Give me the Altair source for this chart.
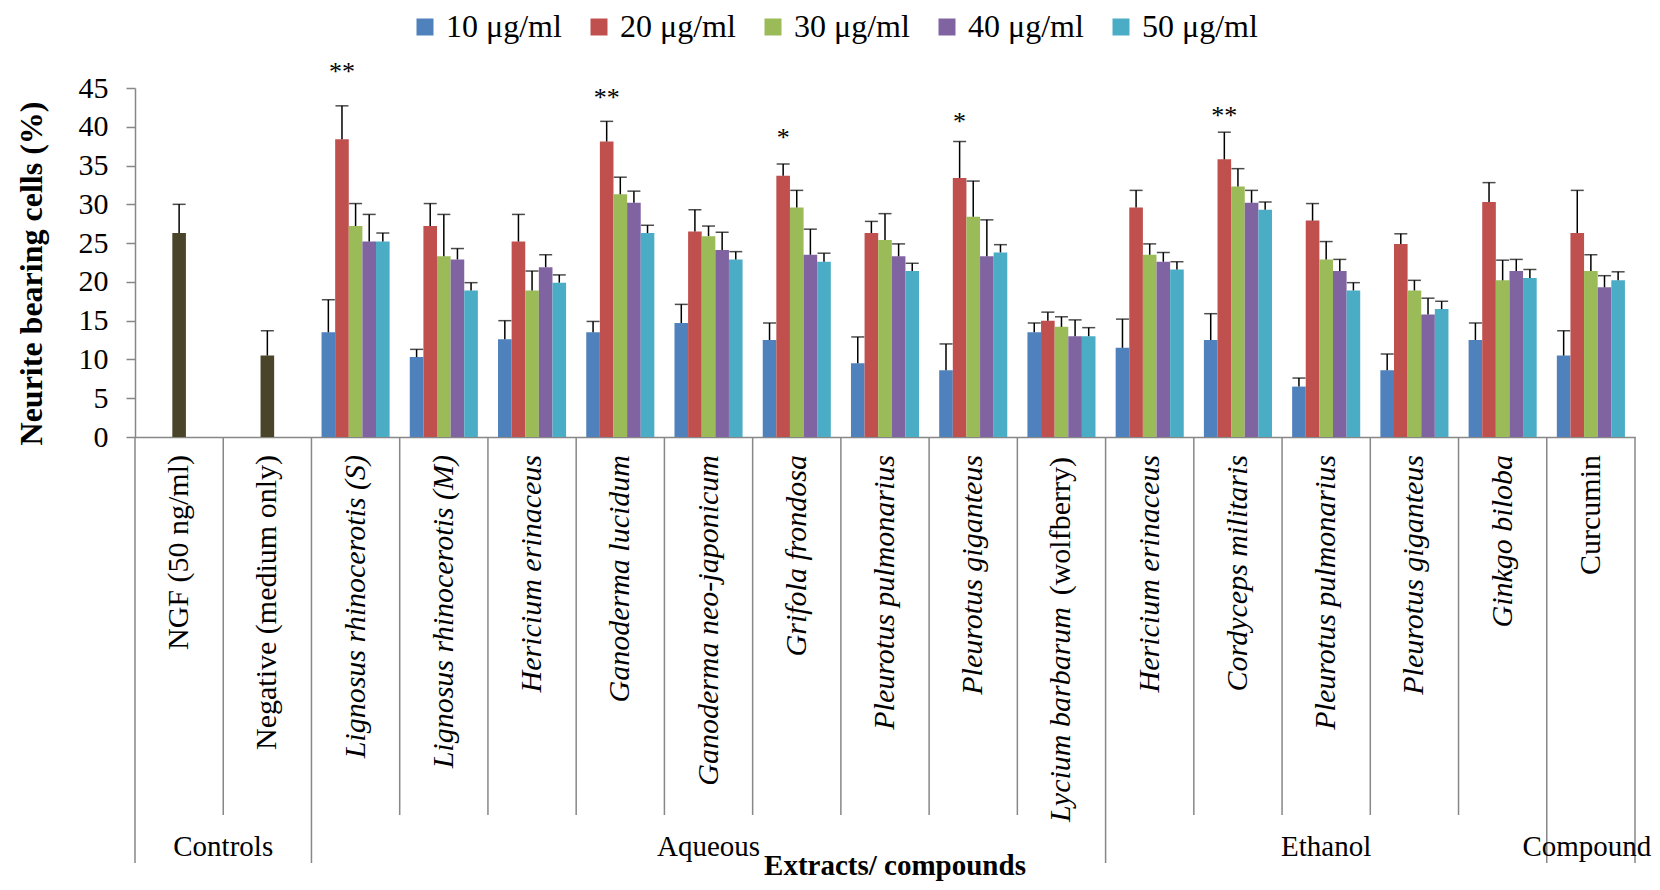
import altair as alt
import pandas as pd

FONT = "Liberation Serif, Times New Roman, Times, serif"
GRAY = "#878787"

# ---------------- data ----------------
labels = [
    "NGF (50 ng/ml)", "Negative (medium only)",
    "Lignosus rhinocerotis (S)", "Lignosus rhinocerotis (M)", "Hericium erinaceus",
    "Ganoderma  lucidum", "Ganoderma neo-japonicum", "Grifola frondosa",
    "Pleurotus pulmonarius", "Pleurotus giganteus", "Lycium barbarum",
    "Hericium erinaceus", "Cordyceps militaris", "Pleurotus pulmonarius",
    "Pleurotus giganteus", "Ginkgo biloba", "Curcumin",
]
italic = [False, False, True, True, True, True, True, True, True, True, True,
          True, True, True, True, True, False]
ids = [f"c{i:02d}" for i in range(len(labels))]

series = ["10 μg/ml", "20 μg/ml", "30 μg/ml", "40 μg/ml", "50 μg/ml"]
colors = ["#4F81BD", "#C0504D", "#9BBB59", "#8064A2", "#4BACC6"]

control_values = [26.3, 10.5]
control_sd = [3.7, 3.2]

# extract categories c02..c16
v10 = [13.5, 10.3, 12.6, 13.5, 14.7, 12.5, 9.5, 8.6, 13.5, 11.5, 12.5, 6.5, 8.6, 12.5, 10.5]
v20 = [38.4, 27.2, 25.2, 38.1, 26.5, 33.7, 26.3, 33.4, 15.0, 29.6, 35.8, 27.9, 24.9, 30.3, 26.3]
v30 = [27.2, 23.3, 18.9, 31.3, 25.9, 29.6, 25.4, 28.4, 14.2, 23.5, 32.3, 22.9, 18.9, 20.2, 21.4]
v40 = [25.2, 22.9, 21.9, 30.2, 24.1, 23.5, 23.3, 23.3, 13.0, 22.6, 30.2, 21.4, 15.8, 21.4, 19.3]
v50 = [25.2, 18.9, 19.9, 26.3, 22.9, 22.6, 21.4, 23.8, 13.0, 21.6, 29.3, 18.9, 16.5, 20.5, 20.2]

sd10 = [4.2, 1.0, 2.4, 1.4, 2.4, 2.2, 3.4, 3.4, 1.2, 3.7, 3.4, 1.1, 2.1, 2.2, 3.2]
sd20 = [4.3, 2.9, 3.5, 2.6, 2.8, 1.5, 1.5, 4.7, 1.1, 2.2, 3.5, 2.2, 1.3, 2.5, 5.5]
sd30 = [2.9, 5.4, 2.5, 2.2, 1.3, 2.2, 3.4, 4.6, 1.3, 1.4, 2.3, 2.3, 1.3, 2.6, 2.1]
sd40 = [3.5, 1.4, 1.6, 1.5, 2.3, 3.3, 1.6, 4.7, 2.1, 1.2, 1.6, 1.5, 2.1, 1.5, 1.5]
sd50 = [1.1, 1.0, 1.0, 1.0, 1.0, 1.1, 1.0, 1.0, 1.1, 1.0, 1.0, 1.0, 1.0, 1.1, 1.1]

y_ticks = [0, 5, 10, 15, 20, 25, 30, 35, 40, 45]

group_names = ["Controls", "Aqueous", "Ethanol", "Compound"]
group_first = [0, 2, 11, 16]

star_ids = ["c02", "c05", "c07", "c09", "c12"]
star_text = ["**", "**", "*", "*", "**"]
star_y = [47.5, 44.1, 38.9, 41.05, 41.8]

# ---------------- tables ----------------
vals = [v10, v20, v30, v40, v50]
sds = [sd10, sd20, sd30, sd40, sd50]
rows = []
for j, s in enumerate(series):
    for k in range(15):
        rows.append({"id": ids[k + 2], "series": s, "value": vals[j][k],
                     "upper": vals[j][k] + sds[j][k]})
df = pd.DataFrame(rows)

ctrl = pd.DataFrame({"id": ids[:2], "value": control_values,
                     "upper": [a + b for a, b in zip(control_values, control_sd)]})

lab_df = pd.DataFrame({"id": ids, "label": labels, "italic": italic})
lab_norm = lab_df[~lab_df["italic"]]
lab_ital = lab_df[lab_df["italic"] & (lab_df["id"] != "c10")]
lab_lyc_i = lab_df[lab_df["id"] == "c10"]
lab_lyc_n = pd.DataFrame({"id": ["c10"], "label": ["(wolfberry)"]})

group_starts = set(group_first)
inner_df = pd.DataFrame({"id": [ids[i] for i in range(len(ids)) if i not in group_starts]})
outer_df = pd.DataFrame({"id": [ids[i] for i in group_first]})
end_df = pd.DataFrame({"id": [ids[-1]]})

stars = pd.DataFrame({"id": star_ids, "series": ["20 μg/ml"] * 5, "y": star_y, "t": star_text})

grp_bound = pd.DataFrame({"id": [ids[1]], "t": [group_names[0]]})
grp_mid = pd.DataFrame({"id": [ids[6], ids[13]], "t": group_names[1:3]})
grp_end = pd.DataFrame({"id": [ids[16]], "t": [group_names[3]]})

ytitle = pd.DataFrame({"t": ["Neurite bearing cells (%)"]})
xtitle = pd.DataFrame({"t": ["Extracts/ compounds"]})

# ---------------- chart ----------------
W, H = 1500, 349
xscale = alt.Scale(domain=ids, paddingInner=0, paddingOuter=0)
xoff = alt.XOffset("series:N", scale=alt.Scale(domain=series, paddingInner=0, paddingOuter=0.74))
ydom = alt.Scale(domain=[0, 45])

XAXIS = alt.Axis(labels=False, ticks=False, title=None, domainColor=GRAY,
                 domainWidth=1.5, grid=False)
YAXIS = alt.Axis(values=y_ticks, title=None, grid=False,
                 labelFont=FONT, labelFontSize=30, labelColor="black",
                 labelOverlap=False, labelFlush=False,
                 tickColor=GRAY, tickSize=9, tickWidth=1.5,
                 domainColor=GRAY, domainWidth=1.5, labelPadding=18)


def X(**kw):
    return alt.X("id:N", title=None, scale=xscale, axis=XAXIS, **kw)


def Y(field):
    return alt.Y(field, title=None, scale=ydom, axis=YAXIS)


bars = alt.Chart(df).mark_bar().encode(
    x=X(), xOffset=xoff, y=Y("value:Q"),
    color=alt.Color("series:N", scale=alt.Scale(domain=series, range=colors),
                    legend=alt.Legend(orient="none", legendX=274, legendY=-77,
                                      direction="horizontal", title=None,
                                      symbolType="square", symbolSize=289,
                                      symbolStrokeWidth=0, labelFont=FONT,
                                      labelFontSize=32, labelColor="black",
                                      columnPadding=21, labelOffset=5, padding=0)),
)

err = alt.Chart(df).mark_rule(color="black", strokeWidth=1.5).encode(
    x=X(), xOffset=xoff, y=Y("value:Q"), y2="upper:Q")
cap = alt.Chart(df).mark_tick(color="black", thickness=1.5, size=13).encode(
    x=X(), xOffset=xoff, y=Y("upper:Q"))

cbars = alt.Chart(ctrl).mark_bar(size=13.6, color="#4A452A").encode(
    x=X(), y=Y("value:Q"))
cerr = alt.Chart(ctrl).mark_rule(color="black", strokeWidth=1.5).encode(
    x=X(), y=Y("value:Q"), y2="upper:Q")
ccap = alt.Chart(ctrl).mark_tick(color="black", thickness=1.5, size=13).encode(
    x=X(), y=Y("upper:Q"))

star_layer = alt.Chart(stars).mark_text(font=FONT, fontSize=26, baseline="middle", dy=3).encode(
    x=X(), xOffset=xoff, y=Y("y:Q"), text="t:N")

inner_rules = alt.Chart(inner_df).mark_rule(color=GRAY, strokeWidth=1.5).encode(
    x=X(bandPosition=0), y=alt.value(H), y2=alt.value(H + 378))
outer_rules = alt.Chart(outer_df).mark_rule(color=GRAY, strokeWidth=1.5).encode(
    x=X(bandPosition=0), y=alt.value(H), y2=alt.value(H + 426))
end_rule = alt.Chart(end_df).mark_rule(color=GRAY, strokeWidth=1.5).encode(
    x=X(bandPosition=1), y=alt.value(H), y2=alt.value(H + 426))

lab_kw = dict(font=FONT, fontSize=30, angle=270, align="right", baseline="middle", color="black")
t_norm = alt.Chart(lab_norm).mark_text(**lab_kw).encode(
    x=X(), y=alt.value(H + 18), text="label:N")
t_ital = alt.Chart(lab_ital).mark_text(fontStyle="italic", **lab_kw).encode(
    x=X(), y=alt.value(H + 18), text="label:N")
t_lyc_n = alt.Chart(lab_lyc_n).mark_text(**lab_kw).encode(
    x=X(), y=alt.value(H + 20), text="label:N")
t_lyc_i = alt.Chart(lab_lyc_i).mark_text(fontStyle="italic", **lab_kw).encode(
    x=X(), y=alt.value(H + 170), text="label:N")

g_kw = dict(font=FONT, fontSize=29, baseline="middle", align="center", color="black")
g1 = alt.Chart(grp_bound).mark_text(**g_kw).encode(
    x=X(bandPosition=0), y=alt.value(H + 410), text="t:N")
g2 = alt.Chart(grp_mid).mark_text(**g_kw).encode(
    x=X(), y=alt.value(H + 410), text="t:N")
g3 = alt.Chart(grp_end).mark_text(dx=-4, **g_kw).encode(
    x=X(), y=alt.value(H + 410), text="t:N")

yt = alt.Chart(ytitle).mark_text(font=FONT, fontSize=32, fontWeight="bold", angle=270,
                                 align="center", baseline="middle", color="black").encode(
    x=alt.value(-103), y=alt.value(H / 2 + 11), text="t:N")
xt = alt.Chart(xtitle).mark_text(font=FONT, fontSize=29, fontWeight="bold",
                                 align="center", baseline="alphabetic", color="black").encode(
    x=alt.value(760), y=alt.value(H + 438), text="t:N")

chart = alt.layer(
    bars, err, cap, cbars, cerr, ccap, star_layer,
    inner_rules, outer_rules, end_rule,
    t_norm, t_ital, t_lyc_n, t_lyc_i, g1, g2, g3, yt, xt,
).properties(
    width=W, height=H,
    autosize=alt.AutoSizeParams(type="none"),
    padding={"left": 127, "top": 80, "right": 17, "bottom": 445},
    background="white",
).configure_view(stroke=None)

chart.save("out.html", embed_options={"renderer": "svg", "actions": False})
